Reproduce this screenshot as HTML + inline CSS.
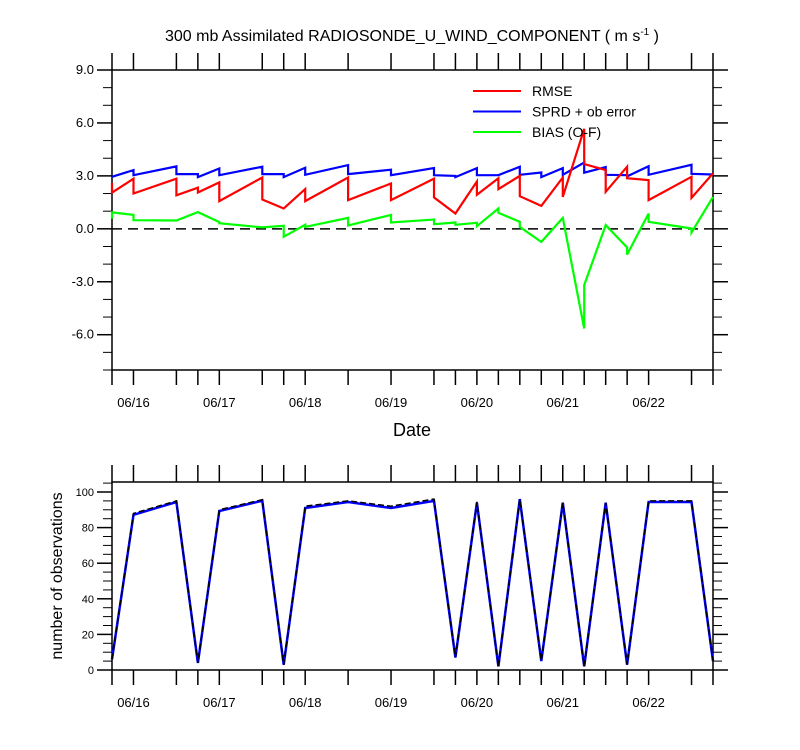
<!DOCTYPE html>
<html><head><meta charset="utf-8"><style>
html,body{margin:0;padding:0;background:#fff;}
svg{display:block;font-family:"Liberation Sans",Arial,sans-serif;}
</style></head><body>
<svg id="chart" width="800" height="750" viewBox="0 0 800 750" xmlns="http://www.w3.org/2000/svg">
<text x="412" y="41" text-anchor="middle" font-size="16">300 mb Assimilated RADIOSONDE_U_WIND_COMPONENT ( m s<tspan dy="-6" font-size="10">-1</tspan><tspan dy="6"> )</tspan></text>
<text x="412" y="436" text-anchor="middle" font-size="18">Date</text>
<text transform="translate(62,576) rotate(-90)" text-anchor="middle" font-size="16">number of observations</text>
<g id="top"></g>
<g id="bot"></g>
<g id="legend"></g>
</svg>
<script>
// time indices (6-hourly steps from 06/15 18Z)
const times = [0,1,3,4,5,7,8,9,11,13,15,16,17,18,19,20,21,22,23,24,25,27,28];
const dateLabels = ["06/16","06/17","06/18","06/19","06/20","06/21","06/22"];
const dateLabelIdx = [1,5,9,13,17,21,25];
const yTicksTop = [9,6,3,0,-3,-6];
const yTickLabelsTop = ["9.0","6.0","3.0","0.0","-3.0","-6.0"];
const yTicksBot = [0,20,40,60,80,100];
// each series: value arriving at a time (In) and leaving it (Out)
const rmseIn  = [2.6,2.84,2.84,2.33,2.63,2.91,1.15,2.25,2.91,2.57,2.84,0.87,2.68,2.87,3.0,1.3,2.91,5.67,3.33,3.52,2.76,2.95,3.14];
const rmseOut = [2.05,2.0,1.9,2.06,1.57,1.66,1.15,1.57,1.63,1.63,1.78,0.87,1.93,2.25,1.85,1.3,1.81,3.67,2.1,2.87,1.63,1.76,3.14];
const sprdIn  = [2.95,3.33,3.54,3.1,3.42,3.52,3.1,3.46,3.61,3.35,3.44,3.0,3.44,3.04,3.52,3.19,3.44,3.76,3.5,3.04,3.55,3.63,3.08];
const sprdOut = [2.95,3.04,3.1,2.93,3.04,3.1,2.93,3.06,3.1,3.04,3.04,2.93,3.04,3.04,3.06,2.93,3.06,3.18,3.06,2.97,3.06,3.12,3.08];
const biasIn  = [0.58,0.79,0.47,0.95,0.38,0.08,0.17,0.23,0.62,0.79,0.53,0.36,0.34,1.15,0.4,-0.74,0.62,-5.65,0.21,-1.06,0.87,0.02,1.81];
const biasOut = [0.93,0.49,0.47,0.95,0.32,0.08,-0.45,0.11,0.19,0.36,0.26,0.23,0.15,0.91,0.11,-0.74,0.62,-3.19,0.21,-1.46,0.4,-0.21,1.81];
const obsUsed  = [6,87.2,94.4,4,89.3,95.1,3,91,94.4,91,95,7,94,2,96,5,94,2,94,3,94.4,94.4,5];
const obsTotal = [6,88,95,4,90,95.7,3,92,95,92,96,7,94.5,2,96,5,94,2,94,3,95,95,5];

const NS="http://www.w3.org/2000/svg";
function mk(parent,tag,attrs){const e=document.createElementNS(NS,tag);for(const k in attrs)e.setAttribute(k,attrs[k]);parent.appendChild(e);return e;}
const X0=112,X1=713,TMAX=28;
function xs(t){return X0+(X1-X0)*t/TMAX;}
function yTop(v){return 70+(9-v)*(300/17);}
function yBot(v){return 670-v*(178/100);}
const gTop=document.getElementById('top'), gBot=document.getElementById('bot'), gLeg=document.getElementById('legend');

function axes(g,yT,yB,ys,vmin,vmax,major,minor,labels,labY,prefix){
  const f=mk(g,'rect',{x:X0,y:yT,width:X1-X0,height:yB-yT,fill:'none',stroke:'#000','stroke-width':1.5});
  
  
  for(let v=Math.ceil(vmin/minor)*minor; v<=vmax+1e-9; v+=minor){
    const isMaj=Math.abs(v/major-Math.round(v/major))<1e-6;
    const len=isMaj?15:9, y=ys(v);
    const l=mk(g,'line',{x1:X0-len,x2:X0,y1:y,y2:y,stroke:'#000','stroke-width':isMaj?1.5:1});
    
    
    const r=mk(g,'line',{x1:X1,x2:X1+len,y1:y,y2:y,stroke:'#000','stroke-width':isMaj?1.5:1});
    
    
  }
  labels.forEach(([v,txt])=>{
    const t=mk(g,'text',{x:X0-18,y:ys(v)+4,'text-anchor':'end','font-size':labY});
    t.textContent=txt;
    
    
  });
  times.forEach(t=>{
    const x=xs(t);
    const a=mk(g,'line',{x1:x,x2:x,y1:yT-17,y2:yT,stroke:'#000','stroke-width':1.5});
    
    
    const b=mk(g,'line',{x1:x,x2:x,y1:yB,y2:yB+15,stroke:'#000','stroke-width':1.5});
    
    
  });
  dateLabels.forEach((d,i)=>{
    const t=mk(g,'text',{x:xs(dateLabelIdx[i]),y:yB+37,'text-anchor':'middle','font-size':13});
    t.textContent=d;
    
    
  });
}
axes(gTop,70,370,yTop,-8,9,3,1,yTicksTop.map((v,i)=>[v,yTickLabelsTop[i]]),13,'top');
axes(gBot,482,670,yBot,0,105,20,5,yTicksBot.map(v=>[v,String(v)]),11,'bottom');

const zl=mk(gTop,'line',{x1:X0,x2:X1,y1:yTop(0),y2:yTop(0),stroke:'#000','stroke-width':1.5,'stroke-dasharray':'10,6'});



function sawPath(inA,outA){
  let d='';
  times.forEach((t,i)=>{
    const x=xs(t);
    d+=(i?'L':'M')+x.toFixed(1)+','+yTop(inA[i]).toFixed(1)+'L'+x.toFixed(1)+','+yTop(outA[i]).toFixed(1);
  });
  return d;
}
const series=[['sprd-line','#0000ff',sprdIn,sprdOut],['rmse-line','#ff0000',rmseIn,rmseOut],['bias-line','#00ff00',biasIn,biasOut]];
series.forEach(([n,c,a,b])=>{
  const p=mk(gTop,'path',{d:sawPath(a,b),fill:'none',stroke:c,'stroke-width':2.2,'stroke-linejoin':'miter'});
  
  
});

function linePath(arr){return times.map((t,i)=>(i?'L':'M')+xs(t).toFixed(1)+','+yBot(arr[i]).toFixed(1)).join('');}
const pb=mk(gBot,'path',{d:linePath(obsUsed),fill:'none',stroke:'#0000ff','stroke-width':2.5});


const pt=mk(gBot,'path',{d:linePath(obsTotal),fill:'none',stroke:'#000','stroke-width':1.5,'stroke-dasharray':'6,3'});



const legItems=[['RMSE','#ff0000'],['SPRD + ob error','#0000ff'],['BIAS (O-F)','#00ff00']];
legItems.forEach(([txt,c],i)=>{
  const y=91+i*20.5;
  const l=mk(gLeg,'line',{x1:473,x2:521,y1:y,y2:y,stroke:c,'stroke-width':2});
  
  
  const t=mk(gLeg,'text',{x:532,y:y+5,'font-size':14});
  t.textContent=txt;
  
  
});
</script>
</body></html>
